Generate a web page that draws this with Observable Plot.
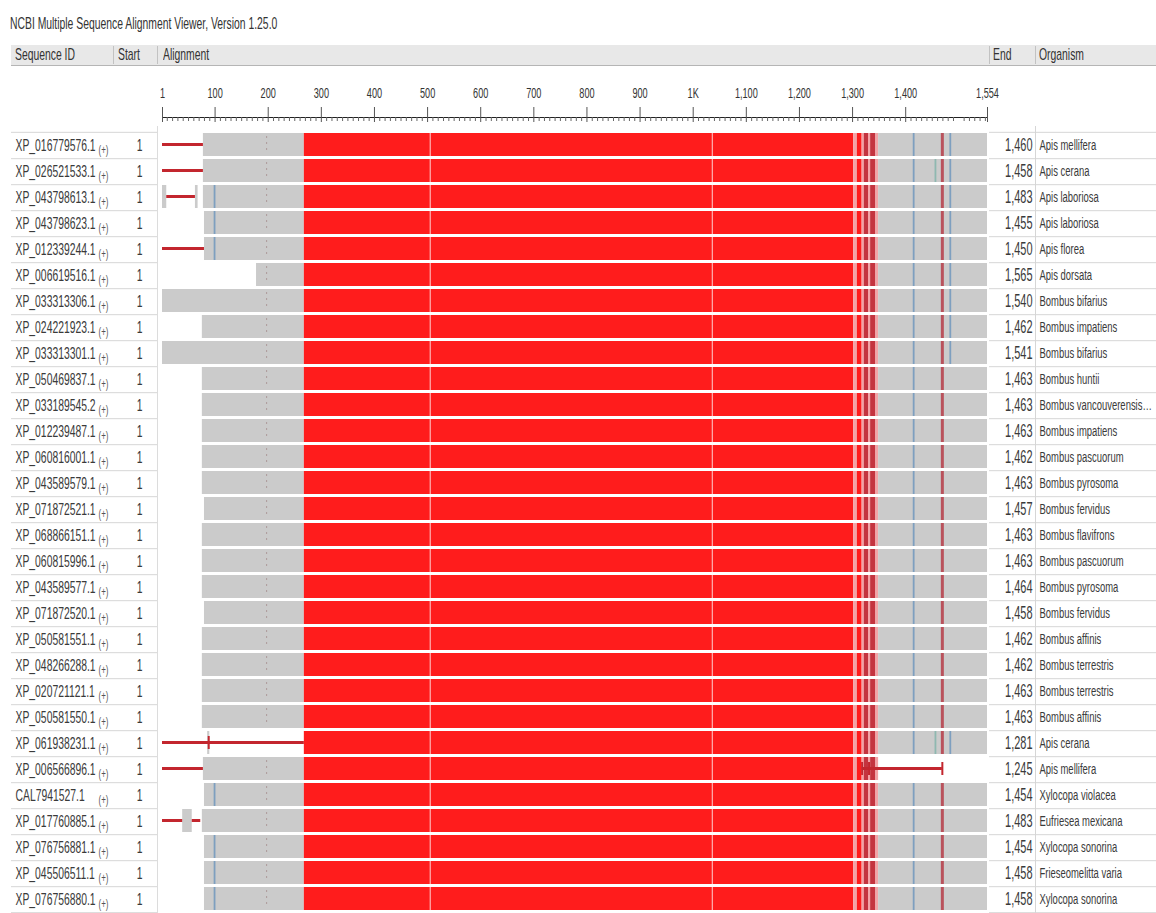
<!DOCTYPE html>
<html><head><meta charset="utf-8">
<script src="https://cdn.jsdelivr.net/npm/d3@7"></script>
<script src="https://cdn.jsdelivr.net/npm/@observablehq/plot@0.6"></script>
<style>
html,body{margin:0;padding:0;background:#fff;}
body{width:1156px;height:913px;overflow:hidden;position:relative;font-family:"Liberation Sans",Arial,sans-serif;color:#333;}
.sq{display:inline-block;transform:scaleX(0.61);transform-origin:0 50%;white-space:nowrap;}
#title{position:absolute;left:10px;top:15px;font-size:17px;line-height:18px;color:#333;}
#hdr{position:absolute;left:11px;top:45px;width:1145px;height:20px;background:#e8e8e8;border-bottom:1px solid #b5b5b5;}
.hc{position:absolute;top:1px;font-size:17px;line-height:18px;color:#333;}
.sep{position:absolute;top:1px;width:1px;height:18px;background:#c2c2c2;}
.abs{position:absolute;}
</style></head><body>
<div id="title"><span class="sq">NCBI Multiple Sequence Alignment Viewer, Version 1.25.0</span></div>
<div id="hdr"></div>
<div id="ruler" class="abs" style="left:0;top:68px"></div>
<div id="main" class="abs" style="left:0;top:126px"></div>
<div id="left" class="abs" style="left:0;top:126px"></div>
<div id="right" class="abs" style="left:987px;top:126px"></div>
<script>
// ---------------- data ----------------
const columnNames = ["Sequence ID", "Start", "Alignment", "End", "Organism"];
const seqIds = ["XP_016779576.1","XP_026521533.1","XP_043798613.1","XP_043798623.1","XP_012339244.1","XP_006619516.1","XP_033313306.1","XP_024221923.1","XP_033313301.1","XP_050469837.1","XP_033189545.2","XP_012239487.1","XP_060816001.1","XP_043589579.1","XP_071872521.1","XP_068866151.1","XP_060815996.1","XP_043589577.1","XP_071872520.1","XP_050581551.1","XP_048266288.1","XP_020721121.1","XP_050581550.1","XP_061938231.1","XP_006566896.1","CAL7941527.1","XP_017760885.1","XP_076756881.1","XP_045506511.1","XP_076756880.1"];
const starts = [1,1,1,1,1,1,1,1,1,1,1,1,1,1,1,1,1,1,1,1,1,1,1,1,1,1,1,1,1,1];
const ends = [1460,1458,1483,1455,1450,1565,1540,1462,1541,1463,1463,1463,1462,1463,1457,1463,1463,1464,1458,1462,1462,1463,1463,1281,1245,1454,1483,1454,1458,1458];
const organisms = ["Apis mellifera","Apis cerana","Apis laboriosa","Apis laboriosa","Apis florea","Apis dorsata","Bombus bifarius","Bombus impatiens","Bombus bifarius","Bombus huntii","Bombus vancouverensis…","Bombus impatiens","Bombus pascuorum","Bombus pyrosoma","Bombus fervidus","Bombus flavifrons","Bombus pascuorum","Bombus pyrosoma","Bombus fervidus","Bombus affinis","Bombus terrestris","Bombus terrestris","Bombus affinis","Apis cerana","Apis mellifera","Xylocopa violacea","Eufriesea mexicana","Xylocopa sonorina","Frieseomelitta varia","Xylocopa sonorina"];
// alignment coordinate where each row's left (unconserved) aligned region begins; null = none
const leftFlankStart = [78,78,78,80,80,178,1,76,1,76,76,76,76,76,80,76,76,76,80,76,76,76,76,null,78,80,76,80,80,80];
const alignmentLength = 1554;
const conservedBlock = [268, 1302];
const rightFlank = [1349, 1554];
const rowsWithoutRightFlank = ["XP_006566896.1"];
// narrow columns after the conserved block: [from, to, kind]
const tailColumns = [[1302,1309,"weak"],[1309,1318,"conserved"],[1318,1322,"weak"],[1322,1330,"mismatch"],[1330,1334,"weak"],[1334,1344,"mismatch"],[1344,1349,"weak"]];
// gaps drawn as thin connectors: [id, from, to]
const gapSegments = [["XP_016779576.1",1,78],["XP_026521533.1",1,78],["XP_043798613.1",9,63],["XP_012339244.1",1,80],["XP_061938231.1",1,268],["XP_006566896.1",1,78],["XP_006566896.1",1318,1469],["XP_017760885.1",1,39],["XP_017760885.1",57,73]];
const gapCaps = [["XP_006566896.1",1318],["XP_006566896.1",1331],["XP_006566896.1",1469],["XP_061938231.1",88]];
// short aligned pieces: [id, from, to]
const smallPieces = [["XP_043798613.1",1,9],["XP_043798613.1",63,68],["XP_017760885.1",39,57],["XP_061938231.1",86,90]];
// single-column differences
const blueSites = [
  {pos: 99, rows: ["XP_043798613.1","XP_043798623.1","XP_012339244.1","CAL7941527.1","XP_076756881.1","XP_045506511.1","XP_076756880.1"]},
  {pos: 1415, rows: seqIds.filter(d => d !== "XP_006566896.1")},
  {pos: 1484, rows: seqIds.slice(0, 9).concat(["XP_061938231.1"])}
];
const tealSites = [{pos: 1456, rows: ["XP_026521533.1","XP_061938231.1"]}];
const redSites = [{pos: 1469, rows: seqIds.filter(d => d !== "XP_006566896.1")}];
const lightSites = [505, 1036];
const dottedSites = [197];
const rulerTicks = [1,100,200,300,400,500,600,700,800,900,1000,1100,1200,1300,1400,1554];
const rulerLabels = ["1","100","200","300","400","500","600","700","800","900","1K","1,100","1,200","1,300","1,400","1,554"];
const minorTicks = d3.range(10, 1554, 10).filter(v => v % 100 !== 0);

// ---------------- styles ----------------
const palette = {unaligned:"#cbcbcb", conserved:"#ff1c1c", weak:"#f3a3a6", mismatch:"#c4343f", gap:"#c3262e", blue:"#7e9fbf", teal:"#8fb8b0", red:"#b9525c", light:"#ffb3b3", dot:"#ad9a9a"};
const FONT = "'Liberation Sans', Arial, sans-serif";
const SQ = 0.61;
const H = 791, N = seqIds.length, step = H / N;

// header
const hdr = document.getElementById("hdr");
const hdrX = [4, 107, 152, 982, 1028];
const sepX = [102, 146, 978, 1024];
columnNames.forEach((c, i) => {
  const d = document.createElement("div"); d.className = "hc"; d.style.left = hdrX[i] + "px";
  d.innerHTML = `<span class="sq">${c}</span>`; hdr.appendChild(d);
});
sepX.forEach(x => { const s = document.createElement("div"); s.className = "sep"; s.style.left = x + "px"; hdr.appendChild(s); });

function squeeze(svg) {
  svg.querySelectorAll("text").forEach(t => {
    const tr = t.getAttribute("transform");
    if (tr) t.setAttribute("transform", tr + ` scale(${SQ},1)`);
    else {
      const x = +(t.getAttribute("x") || 0), y = +(t.getAttribute("y") || 0);
      t.removeAttribute("x"); t.removeAttribute("y");
      t.setAttribute("transform", `translate(${x},${y}) scale(${SQ},1)`);
    }
  });
  return svg;
}

// ---------------- ruler ----------------
const ruler = Plot.plot({
  width: 1156, height: 58, marginLeft: 162, marginRight: 169, marginTop: 36, marginBottom: 4,
  style: {fontFamily: FONT, background: "transparent"},
  x: {domain: [1, alignmentLength], axis: null},
  y: {domain: [-5, 13], axis: null},
  marks: [
    Plot.ruleY([0], {stroke: "#222", strokeWidth: 1.2}),
    Plot.ruleX(minorTicks, {x: d => d, y1: 0, y2: -4, stroke: "#666"}),
    Plot.ruleX(rulerTicks, {x: d => d, y1: 10, y2: -5, stroke: "#555"}),
    Plot.text(rulerTicks, {x: d => d, y: 13, dy: -11, text: (d, i) => rulerLabels[i], fontSize: 15, fill: "#333",
      textAnchor: (d, i) => i === rulerTicks.length - 1 ? "end" : "middle"})
  ]
});
document.getElementById("ruler").appendChild(squeeze(ruler));

// ---------------- alignment rows ----------------
const segs = [];
seqIds.forEach((id, i) => {
  if (leftFlankStart[i] != null) segs.push({id, x1: leftFlankStart[i], x2: conservedBlock[0], kind: "unaligned"});
  segs.push({id, x1: conservedBlock[0], x2: conservedBlock[1], kind: "conserved"});
  tailColumns.forEach(([a, b, k]) => segs.push({id, x1: a, x2: b, kind: k}));
  if (!rowsWithoutRightFlank.includes(id)) segs.push({id, x1: rightFlank[0], x2: rightFlank[1], kind: "unaligned"});
});
smallPieces.forEach(([id, a, b]) => segs.push({id, x1: a, x2: b, kind: "unaligned"}));
const sites = (list, kind) => list.flatMap(s => s.rows.map(id => ({id, pos: s.pos, kind})));
const dotted = dottedSites.flatMap(p => segs.filter(s => s.kind === "unaligned" && s.x1 <= p && s.x2 > p).map(s => ({id: s.id, pos: p})));
const lights = lightSites.flatMap(p => seqIds.map(id => ({id, pos: p})));

const main = Plot.plot({
  width: 1156, height: H, marginLeft: 162, marginRight: 169, marginTop: 0, marginBottom: 0,
  style: {fontFamily: FONT, background: "transparent"},
  x: {domain: [1, alignmentLength], axis: null},
  y: {domain: seqIds, type: "band", paddingInner: 0.13, paddingOuter: 0.065, axis: null},
  marks: [
    Plot.barX(segs, {y: "id", x1: "x1", x2: "x2", fill: d => palette[d.kind]}),
    Plot.tickX(lights, {x: "pos", y: "id", stroke: palette.light, strokeWidth: 1.2}),
    Plot.tickX(dotted, {x: "pos", y: "id", stroke: palette.dot, strokeDasharray: "2,4", insetTop: 3, insetBottom: 3}),
    Plot.tickX(sites(blueSites, "blue"), {x: "pos", y: "id", stroke: palette.blue, strokeWidth: 1.8}),
    Plot.tickX(sites(tealSites, "teal"), {x: "pos", y: "id", stroke: palette.teal, strokeWidth: 1.8}),
    Plot.tickX(sites(redSites, "red"), {x: "pos", y: "id", stroke: palette.red, strokeWidth: 3}),
    Plot.barX(gapSegments, {y: d => d[0], x1: d => d[1], x2: d => d[2], fill: palette.gap, insetTop: 10, insetBottom: 10}),
    Plot.tickX(gapCaps, {y: d => d[0], x: d => d[1], stroke: palette.gap, strokeWidth: 2, insetTop: 5, insetBottom: 5})
  ]
});
document.getElementById("main").appendChild(main);

// ---------------- left table ----------------
const left = Plot.plot({
  width: 160, height: H, marginLeft: 11, marginRight: 3, marginTop: 0, marginBottom: 0,
  style: {fontFamily: FONT, background: "transparent"},
  x: {domain: [0, 1], axis: null},
  y: {domain: seqIds, type: "point", padding: 0.5, axis: null},
  marks: [
    Plot.ruleY([seqIds[0]], {y: d => d, dy: -step / 2, stroke: "#d6d6d6"}),
    Plot.ruleY(seqIds, {y: d => d, dy: step / 2, stroke: "#d6d6d6"}),
    Plot.ruleX([1], {stroke: "#dcdcdc"}),
    Plot.text(seqIds, {y: d => d, text: d => d, frameAnchor: "left", dx: 4, textAnchor: "start", fontSize: 17, fill: "#3a3a3a"}),
    Plot.text(seqIds, {y: d => d, text: () => "(+)", frameAnchor: "left", dx: 87, dy: 4, textAnchor: "start", fontSize: 13, fill: "#555"}),
    Plot.text(starts, {y: (d, i) => seqIds[i], text: d => String(d), frameAnchor: "right", dx: -15, textAnchor: "end", fontSize: 17, fill: "#3a3a3a"})
  ]
});
document.getElementById("left").appendChild(squeeze(left));

// ---------------- right table ----------------
const right = Plot.plot({
  width: 169, height: H, marginLeft: 2, marginRight: 0, marginTop: 0, marginBottom: 0,
  style: {fontFamily: FONT, background: "transparent"},
  x: {domain: [0, 1], axis: null},
  y: {domain: seqIds, type: "point", padding: 0.5, axis: null},
  marks: [
    Plot.ruleY([seqIds[0]], {y: d => d, dy: -step / 2, stroke: "#d6d6d6"}),
    Plot.ruleY(seqIds, {y: d => d, dy: step / 2, stroke: "#d6d6d6"}),
    Plot.ruleX([0], {dx: 46, stroke: "#d6d6d6"}),
    Plot.text(ends, {y: (d, i) => seqIds[i], text: d => d3.format(",")(d), frameAnchor: "left", dx: 43, textAnchor: "end", fontSize: 18, fill: "#3a3a3a"}),
    Plot.text(organisms, {y: (d, i) => seqIds[i], text: d => d, frameAnchor: "left", dx: 50, textAnchor: "start", fontSize: 15.5, fill: "#3a3a3a"})
  ]
});
document.getElementById("right").appendChild(squeeze(right));
</script>
</body></html>
